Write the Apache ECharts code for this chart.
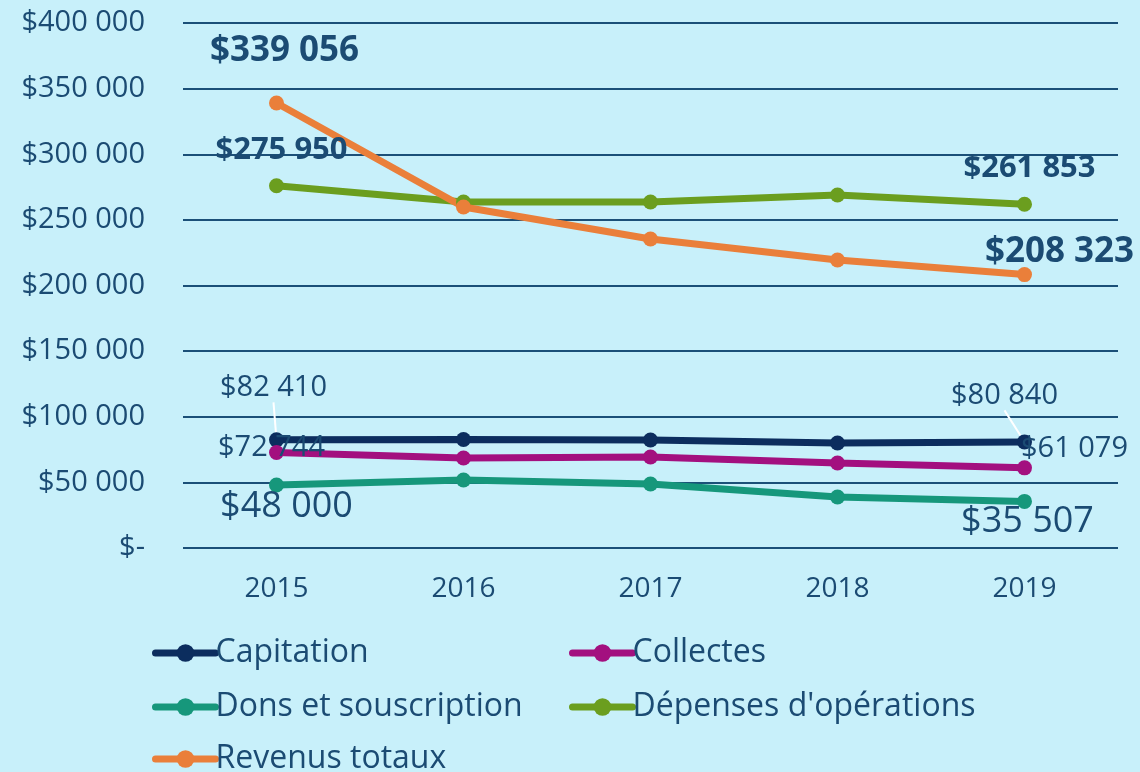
<!DOCTYPE html>
<html><head><meta charset="utf-8">
<script src="https://cdn.jsdelivr.net/npm/echarts@6/dist/echarts.min.js"></script>
<style>html,body{margin:0;padding:0;background:#c8f0fa;}#c{width:1140px;height:772px;}</style>
</head><body><div id="c"></div>
<script>
const categories = ['2015','2016','2017','2018','2019'];
const capitation = [82410, 82700, 82300, 80000, 80840];
const collectes = [72744, 68600, 69300, 64800, 61079];
const dons = [48000, 51800, 48800, 38900, 35507];
const depenses = [275950, 263600, 263600, 269000, 261853];
const revenus = [339056, 259800, 235400, 219400, 208323];
const yTicks = [0, 50000, 100000, 150000, 200000, 250000, 300000, 350000, 400000];
const seriesNames = ['Capitation', 'Collectes', 'Dons et souscription', "Dépenses d'opérations", 'Revenus totaux'];

const textColor = '#1b4b73';
const fontFam = "'Open Sans', 'Noto Sans', sans-serif";
function fmt(v){ if(v===0) return '$-'; return '$' + String(Math.round(v)).replace(/\B(?=(\d{3})+(?!\d))/g,' '); }

// label styles for first and last points
const labelCfg = {
  'Capitation': {0:{offset:[-3,-52], size:29, weight:'normal', line:true}, 4:{offset:[-20,-46], size:29, weight:'normal', line:true}},
  'Collectes': {0:{offset:[-5,-5], size:29, weight:'normal'}, 4:{offset:[50,-19], size:29, weight:'normal'}},
  'Dons et souscription': {0:{offset:[10,22], size:36, weight:'normal'}, 4:{offset:[3,20], size:36, weight:'normal'}},
  "Dépenses d'opérations": {0:{offset:[5,-36], size:31, weight:'bold'}, 4:{offset:[5,-36], size:31, weight:'bold'}},
  'Revenus totaux': {0:{offset:[8,-52], size:35, weight:'bold'}, 4:{offset:[35,-23], size:35, weight:'bold'}}
};

function mkSeries(name, values, color){
  const cfg = labelCfg[name];
  return {
    name, type:'line', data: values.map((v,i)=>{
      const c = cfg[i];
      if(!c) return v;
      return {value:v, label:{show:true, position:'inside', offset:c.offset, formatter:fmt(v), fontSize:c.size, fontWeight:c.weight, color:textColor, fontFamily:fontFam},
        labelLine: c.line ? {show:true, lineStyle:{color:'#ffffff', width:2}} : {show:false}};
    }),
    symbol:'circle', symbolSize:15, lineStyle:{width:7, color, cap:'round'}, itemStyle:{color},
    label:{show:false}, z: 3
  };
}

const legendPos = [[152,637],[569,637],[152,691],[569,691],[152,743]];
const legends = seriesNames.map((n,i)=>({
  data:[n], left:legendPos[i][0], top:legendPos[i][1], padding:0, itemWidth:60, itemHeight:22, itemGap:0,
  lineStyle:{width:7, cap:'round'},
  textStyle:{color:textColor, fontSize:32, fontFamily:fontFam, padding:[0,0,0,-5]}
}));

const chart = echarts.init(document.getElementById('c'));
chart.setOption({
  backgroundColor:'#c8f0fa',
  animation:false,
  grid:{left:183, right:22, top:23, bottom:224},
  xAxis:{type:'category', data:categories, boundaryGap:true,
    axisLine:{show:false}, axisTick:{show:false},
    axisLabel:{color:textColor, fontSize:28, fontFamily:fontFam, margin:27}},
  yAxis:{type:'value', min:yTicks[0], max:yTicks[yTicks.length-1], interval:50000,
    axisLine:{show:false}, axisTick:{show:false},
    splitLine:{lineStyle:{color:'#1b5078', width:2}},
    axisLabel:{color:textColor, fontSize:29, fontFamily:fontFam, margin:38, formatter:fmt}},
  legend: legends,
  series:[
    mkSeries('Capitation', capitation, '#0c2d5e'),
    mkSeries('Collectes', collectes, '#a3107f'),
    mkSeries('Dons et souscription', dons, '#16977b'),
    mkSeries("Dépenses d'opérations", depenses, '#6b9e1f'),
    mkSeries('Revenus totaux', revenus, '#ea7f3a')
  ]
});
</script></body></html>
